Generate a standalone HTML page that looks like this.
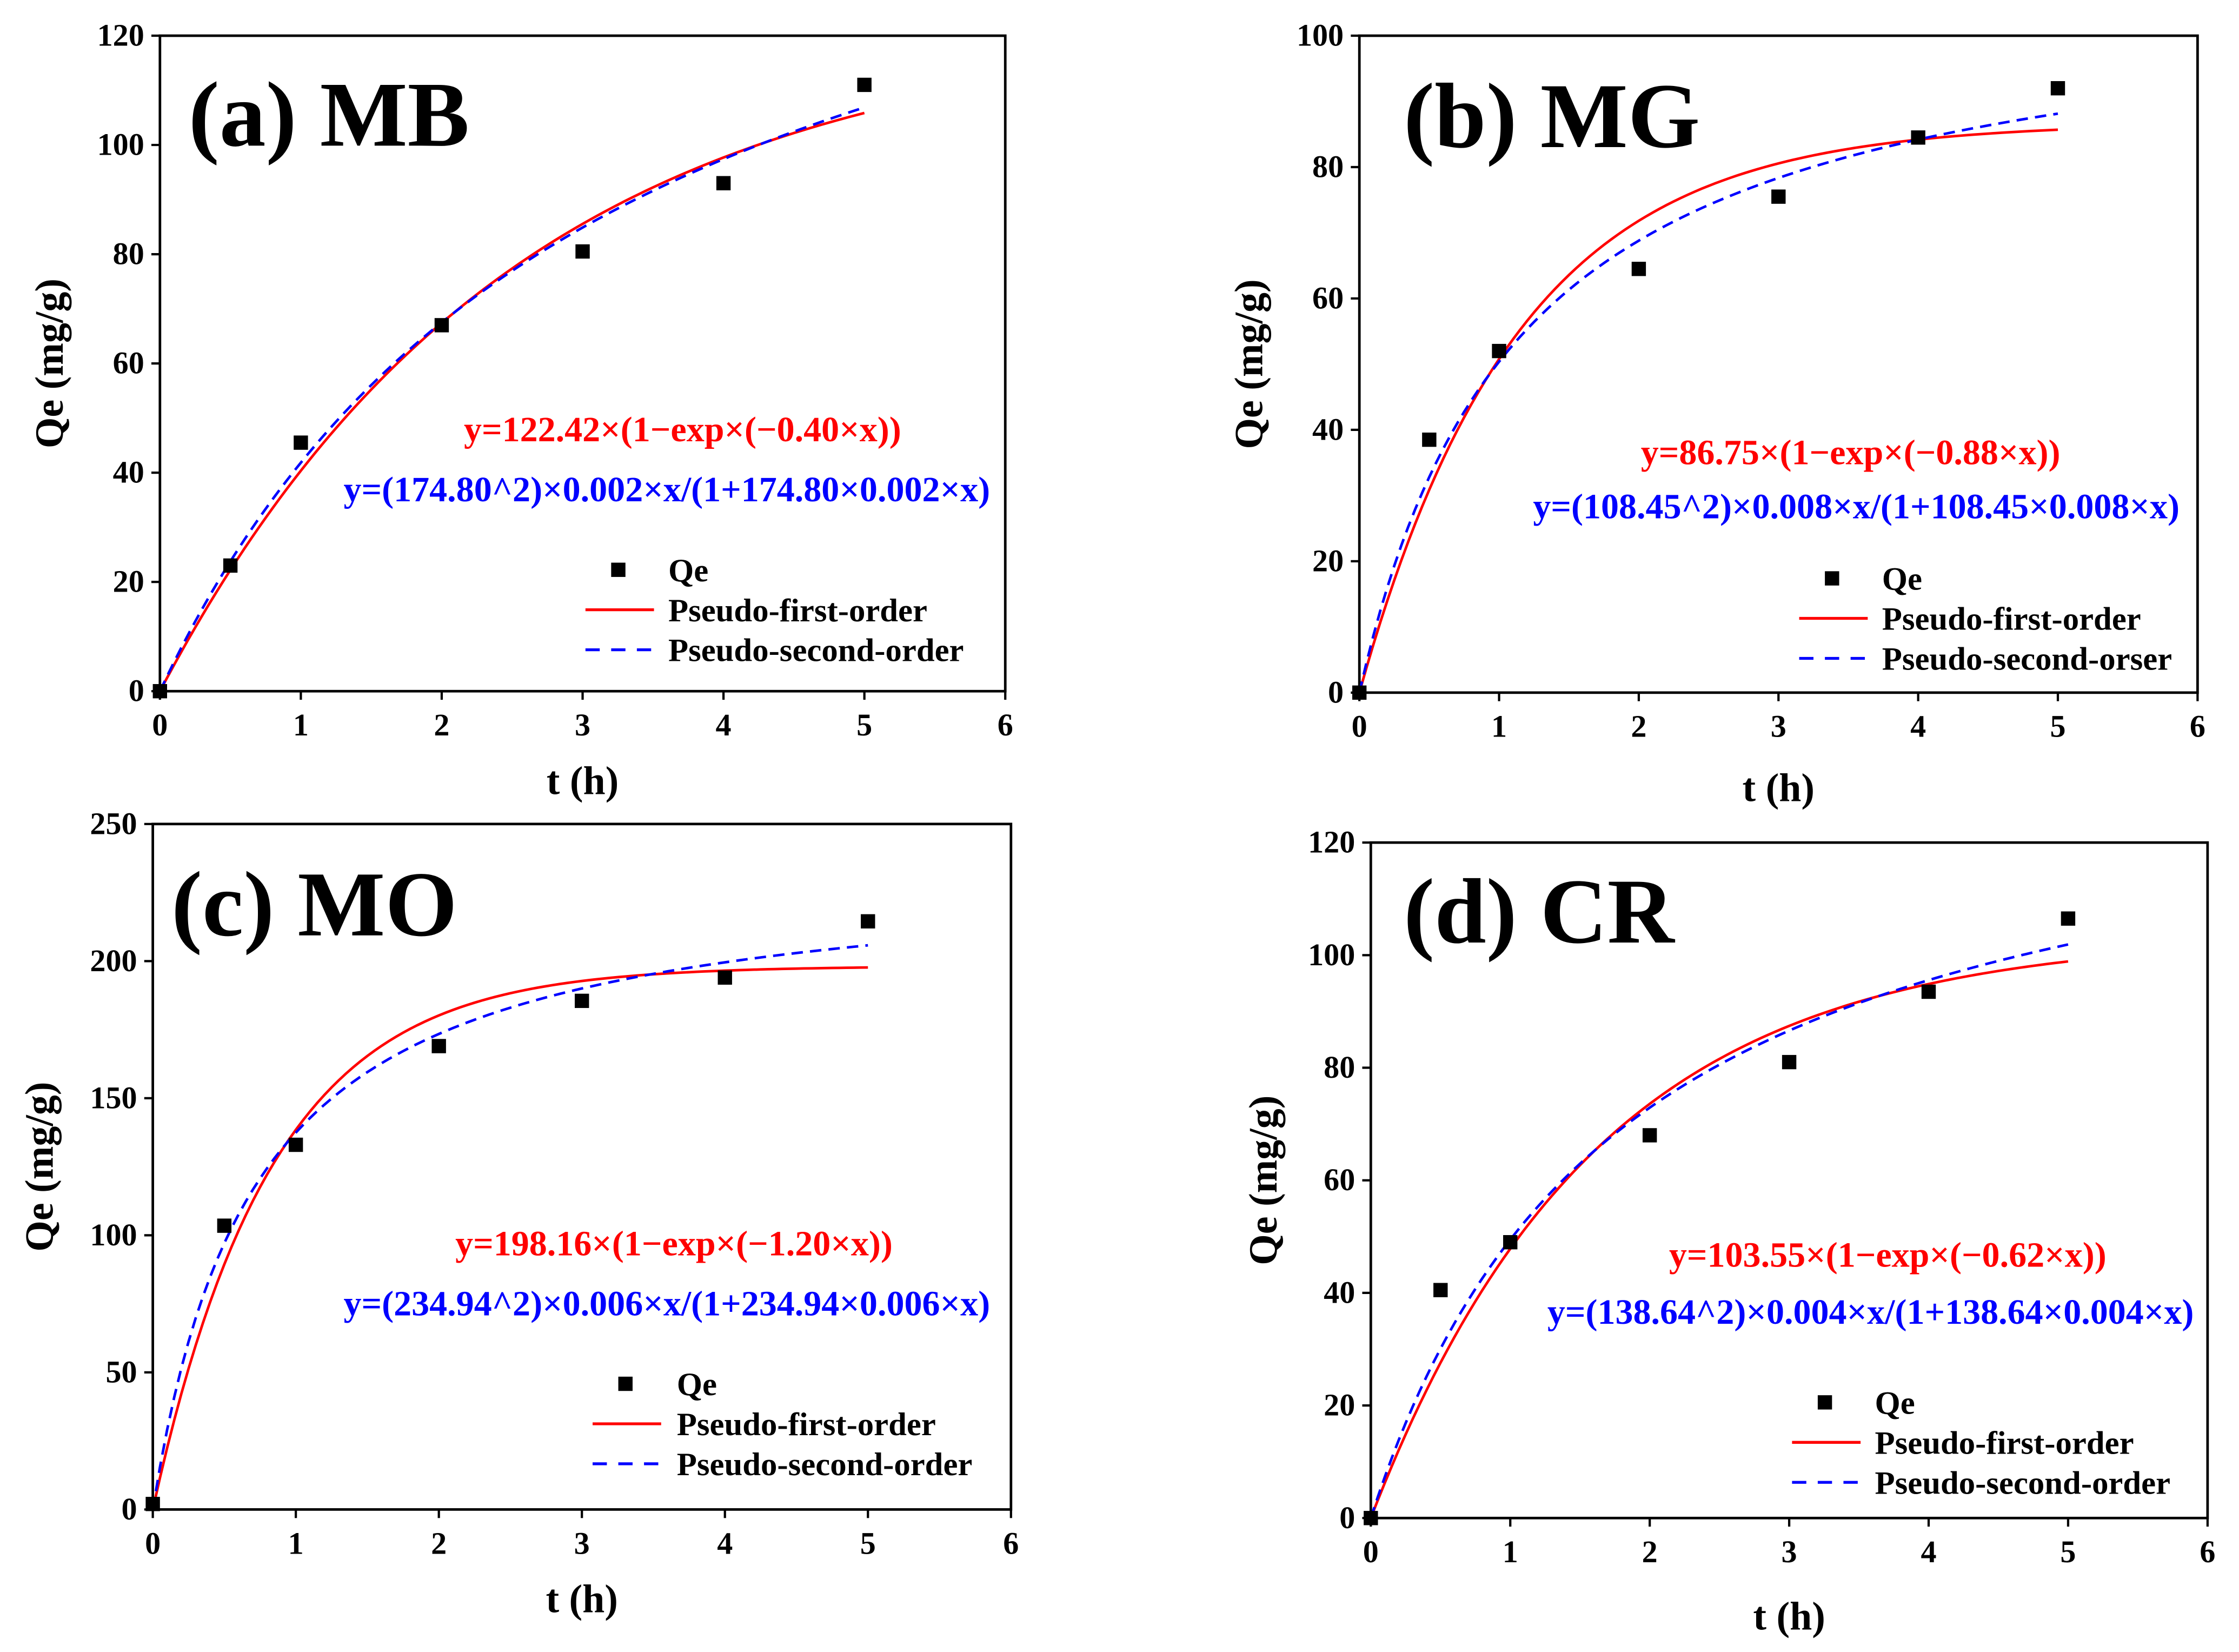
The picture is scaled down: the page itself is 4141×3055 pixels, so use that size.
<!DOCTYPE html>
<html><head><meta charset="utf-8"><style>
html,body{margin:0;padding:0;background:#fff}
svg{display:block}
text{font-family:"Liberation Serif",serif;font-weight:bold}
</style></head><body>
<svg id="chart" width="4141" height="3055" viewBox="0 0 1568 1156.8" xmlns="http://www.w3.org/2000/svg"></svg>
<script>
// ---- data ----
const panelTitles = ["(a) MB","(b) MG","(c) MO","(d) CR"];
const timeValues = [0, 0.5, 1, 2, 3, 4, 5];
const qeMB = [0, 23, 45.5, 67, 80.5, 93, 111];
const qeMG = [0, 38.5, 52, 64.5, 75.5, 84.5, 92];
const qeMO = [2, 103.5, 133, 169, 185.5, 194, 214.5];
const qeCR = [0, 40.5, 49, 68, 81, 93.5, 106.5];
const pfoQe = [122.42, 86.75, 198.16, 103.55];
const pfoK = [0.40, 0.88, 1.20, 0.62];
const psoQe = [174.80, 108.45, 234.94, 138.64];
const psoK = [0.0018, 0.008, 0.006, 0.004];
const yMax = [120, 100, 250, 120];
const yStep = [20, 20, 50, 20];
const xTicks = [0,1,2,3,4,5,6];
const redEq = ["y=122.42×(1−exp×(−0.40×x))","y=86.75×(1−exp×(−0.88×x))","y=198.16×(1−exp×(−1.20×x))","y=103.55×(1−exp×(−0.62×x))"];
const blueEq = ["y=(174.80^2)×0.002×x/(1+174.80×0.002×x)","y=(108.45^2)×0.008×x/(1+108.45×0.008×x)","y=(234.94^2)×0.006×x/(1+234.94×0.006×x)","y=(138.64^2)×0.004×x/(1+138.64×0.004×x)"];
const legendLabels = [["Qe","Pseudo-first-order","Pseudo-second-order"],["Qe","Pseudo-first-order","Pseudo-second-orser"],["Qe","Pseudo-first-order","Pseudo-second-order"],["Qe","Pseudo-first-order","Pseudo-second-order"]];
const qeSeries = [qeMB, qeMG, qeMO, qeCR];

// ---- layout ----
const boxes = [
 {l:112,r:704,t:25,b:484, ty:547, yx:35, title:[132,102], red:[478,309], blue:[467,351], leg:[433,399], lx:410, tx:468},
 {l:952,r:1539,t:25,b:485, ty:552, yx:875, title:[983,103], red:[1296,325], blue:[1300,363], leg:[1283,405], lx:1260, tx:1318},
 {l:107,r:708,t:577,b:1057, ty:1120, yx:28, title:[120,655], red:[472,879], blue:[467,921], leg:[438,969], lx:415, tx:474},
 {l:960,r:1546,t:590,b:1063, ty:1132, yx:885, title:[983,660], red:[1322,887], blue:[1310,927], leg:[1278,982], lx:1255, tx:1313}
];
const NS="http://www.w3.org/2000/svg";
const svg=document.getElementById('chart');
function mk(tag,attrs,parent){const e=document.createElementNS(NS,tag);for(const k in attrs)e.setAttribute(k,attrs[k]);(parent||svg).appendChild(e);return e;}

boxes.forEach((B,i)=>{
 const g=mk('g',{});
 
 
 const xs=v=>B.l+(v/6)*(B.r-B.l);
 const ys=v=>B.b-(v/yMax[i])*(B.b-B.t);
 const frame=mk('rect',{x:B.l,y:B.t,width:B.r-B.l,height:B.b-B.t,fill:'none',stroke:'#000','stroke-width':1.8},g);
 
 
 xTicks.forEach(v=>{
  mk('line',{x1:xs(v),x2:xs(v),y1:B.b,y2:B.b+6,stroke:'#000','stroke-width':1.6},g);
  const t=mk('text',{x:xs(v),y:B.b+31,'font-size':22,'text-anchor':'middle'},g);t.textContent=v;
  
  
 });
 for(let v=0;v<=yMax[i];v+=yStep[i]){
  mk('line',{x1:B.l-6,x2:B.l,y1:ys(v),y2:ys(v),stroke:'#000','stroke-width':1.6},g);
  const t=mk('text',{x:B.l-11,y:ys(v)+7,'font-size':22,'text-anchor':'end'},g);t.textContent=v;
  
  
 }
 const xt=mk('text',{x:(B.l+B.r)/2,y:B.ty+9,'font-size':28,'text-anchor':'middle'},g);xt.textContent='t (h)';
 
 
 const yt=mk('text',{x:B.yx+9,y:(B.t+B.b)/2,'font-size':28,'text-anchor':'middle',transform:`rotate(-90 ${B.yx+9} ${(B.t+B.b)/2})`},g);yt.textContent='Qe (mg/g)';
 
 
 const tt=mk('text',{x:B.title[0],y:B.title[1],'font-size':65},g);tt.textContent=panelTitles[i];
 
 
 let p1='',p2='';
 for(let k=0;k<=100;k++){const x=5*k/100;
  const y1=pfoQe[i]*(1-Math.exp(-pfoK[i]*x));
  const y2=psoQe[i]*psoQe[i]*psoK[i]*x/(1+psoQe[i]*psoK[i]*x);
  p1+=(k?'L':'M')+xs(x).toFixed(2)+','+ys(y1).toFixed(2);
  p2+=(k?'L':'M')+xs(x).toFixed(2)+','+ys(y2).toFixed(2);}
 const c1=mk('path',{d:p1,fill:'none',stroke:'#ff0000','stroke-width':1.8},g);
 
 
 const c2=mk('path',{d:p2,fill:'none',stroke:'#0000ff','stroke-width':1.8,'stroke-dasharray':'8 5'},g);
 
 
 timeValues.forEach((tv,j)=>{
  const r=mk('rect',{x:xs(tv)-5,y:ys(qeSeries[i][j])-5,width:10,height:10,fill:'#000'},g);
  
  
 });
 const re=mk('text',{x:B.red[0],y:B.red[1],'font-size':25,'text-anchor':'middle',fill:'#ff0000'},g);re.textContent=redEq[i];
 
 
 const be=mk('text',{x:B.blue[0],y:B.blue[1],'font-size':25,'text-anchor':'middle',fill:'#0000ff'},g);be.textContent=blueEq[i];
 
 
 const lg=mk('g',{},g);
 
 
 const ly=B.leg[1];
 mk('rect',{x:B.leg[0]-5,y:ly-5,width:10,height:10,fill:'#000'},lg);
 mk('line',{x1:B.lx,x2:B.lx+48,y1:ly+28,y2:ly+28,stroke:'#ff0000','stroke-width':2},lg);
 mk('line',{x1:B.lx,x2:B.lx+48,y1:ly+56,y2:ly+56,stroke:'#0000ff','stroke-width':2,'stroke-dasharray':'10 8'},lg);
 legendLabels[i].forEach((s,j)=>{
  const t=mk('text',{x:B.tx,y:ly+8+28*j,'font-size':23},lg);t.textContent=s;
  
  
 });
});
</script>
</body></html>
